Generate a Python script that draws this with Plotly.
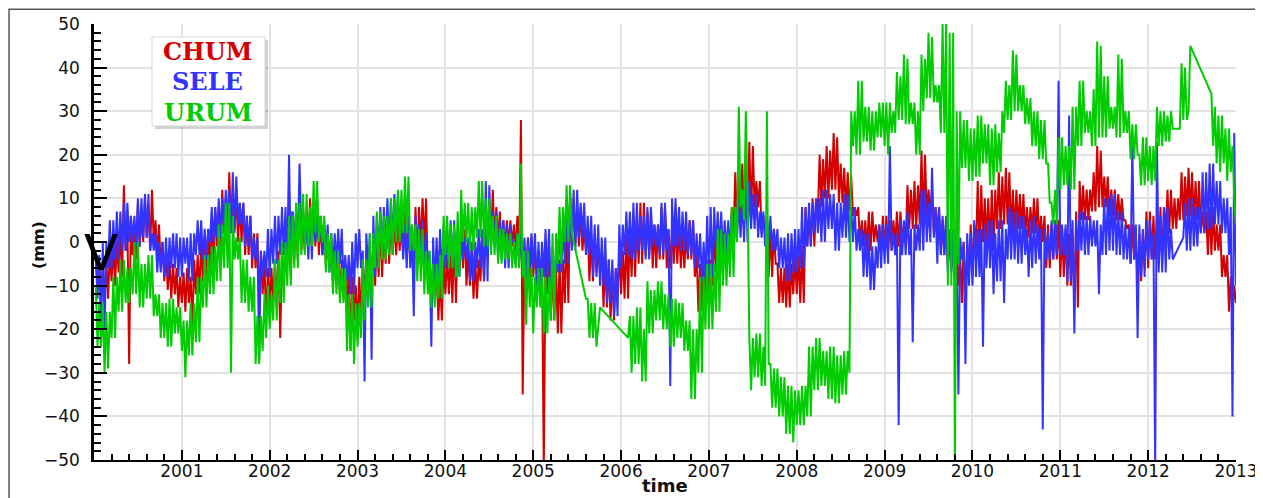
import plotly.graph_objects as go

N = None
STEP = 0.02
# sample times: 2000.02 ... 2013.00 (50 samples per year), one row per year below
TIMES = [round(2000 + STEP * i, 2) for i in range(1, 651)]

CHUM = [
    -3,-11, -5,-12, -6,-14, -4,-13, -2,-9, -1,-10, 0,-7, 3,-8, 13,-2, 5,-28, 6,-3, 4,-4, 9,-1, 6,0, 10,1, 8,-2, 12,0, 5,-3, 4,-6, 0,-9, -2,-11, -4,-13, -5,-12, -6,-15, -8,-14,
    -7,-16, -6,-14, -8,-19, -4,-12, -3,-12, 0,-9, 1,-8, 3,-6, 4,-6, 8,-1, 7,-1, 12,2, 10,2, 16,3, 11,3, 11,0, 9,0, 9,-3, 6,-3, 6,-6, 2,-6, 2,-14, -2,-12, -4,-19, -6,-15,
    -6,-14, -4,-15, -2,-22, -3,-10, 3,-5, 3,-8, 7,-4, 6,-4, 12,-2, 8,-2, 6,0, 10,-1, 9,-1, 9,-3, 5,-3, 5,-6, 2,-6, 2,-10, -1,-10, -2,-13, -4,-13, -6,-16, -6,-25, -8,-18, -10,-20,
    -8,-18, -4,-15, -2,-14, -2,-10, 2,-10, 2,-8, 4,-8, 4,-5, 6,-5, 6,-3, 5,-3, 5,-2, 7,-2, 7,-4, 4,-4, 4,-5, 8,-5, 8,-1, 10,-1, 10,-8, -3,-14, -5,-14, -5,-18, -8,-18, -4,-12,
    -3,-12, -3,-14, 2,-14, 2,-6, 3,-6, 3,-10, -2,-10, -2,-13, -4,-13, -4,-9, 2,-9, 2,-1, 8,-1, 12,0, 8,0, 7,-2, 5,-2, 5,-1, 5,-1, 4,-2, 6,-3, 28,-35, -3,-10, 1,-10, 1,-8,
    -2,-8, -2,-10, -4,-52, -3,-12, -3,-18, -6,-18, -6,-21, -4,-21, -4,-14, 4,-14, 11,-1, 10,0, 8,-1, 8,-2, 3,-2, 3,-9, 2,-9, 2,-7, -2,-7, -2,-15, -4,-15, -4,-18, -6,-18, -6,-12, -2,-12,
    -2,-13, 3,-13, 3,-8, 6,-8, 6,-5, 9,-5, 9,-3, 7,-3, 7,-6, 4,-6, 4,-4, 8,-4, 8,-6, 3,-6, 3,-5, 4,-5, 4,-6, 2,-6, 2,-4, 5,-4, 5,-8, -2,-16, -5,-16, -5,-14, -4,-12,
    -4,-10, 3,-7, 3,-6, 2,-6, 2,-5, 3,-5, 8,1, 16,4, 15,4, 18,4, 17,5, 23,5, 22,8, 14,8, 14,2, 6,2, 6,-8, 3,-8, 3,-5, -5,-14, -6,-14, -6,-15, -5,-15, -5,-12, -3,-12,
    -3,-14, -1,-14, 8,-1, 7,-1, 10,-1, 10,6, 20,8, 19,10, 22,10, 21,12, 25,12, 24,9, 18,9, 17,7, 16,7, 15,6, 8,6, 8,-1, 5,-1, 5,-2, 7,-2, 7,0, 4,0, 4,-2, 6,-2,
    6,-2, 5,-2, 5,-1, 7,-1, 7,0, 4,0, 13,3, 12,3, 14,3, 13,4, 21,4, 20,6, 12,6, 12,2, 8,2, 8,-3, 5,-3, 5,-6, 2,-6, 2,-10, -3,-10, -3,-14, 0,-14, 0,-8, 4,-8,
    4,-2, 14,-2, 13,0, 10,0, 10,-2, 12,-2, 12,3, 16,3, 15,4, 17,4, 16,2, 12,2, 12,3, 11,3, 11,1, 8,1, 8,2, 10,2, 10,0, 6,0, 6,-6, 4,-6, 4,-4, 5,-4, 5,-8,
    3,-8, 3,-10, 2,-10, 2,-15, 7,-15, 14,5, 13,5, 12,5, 12,7, 16,7, 22,8, 21,8, 15,8, 15,6, 12,6, 12,5, 11,5, 10,5, 5,3, 4,-5, 4,-4, 2,-10, 2,-9, 2,-6, 7,-6,
    7,-4, 6,-4, 6,-5, 8,-5, 8,2, 12,2, 12,3, 10,3, 10,5, 16,5, 15,6, 17,6, 16,5, 14,5, 14,2, 7,2, 7,-3, 8,-3, 8,-2, 4,-2, 4,-8, -3,-8, -3,-16, -8,-16, -10,-14,
]

SELE = [
    -3,-13, -3,-21, 0,-20, 0,-6, 5,-6, 5,-4, 7,-4, 7,-2, 9,-2, 9,0, 6,0, 6,-1, 10,-1, 10,1, 11,1, 11,-2, 2,-2, 2,-7, 0,-7, 0,-8, 1,-8, 1,-6, 2,-6, 2,-8, 1,-8,
    1,-5, 1,-9, 2,-9, 2,-3, 5,-3, 5,-4, 3,-4, 3,0, 8,0, 8,1, 10,1, 10,3, 12,3, 12,2, 16,2, 15,4, 9,4, 9,-1, 6,-1, 6,-4, 1,-4, 1,-27, -2,-8, -2,-8, 3,-8,
    3,-5, 6,-5, 6,-3, 8,-3, 8,-4, 20,-4, 7,0, 7,0, 18,2, 5,-2, 5,-4, 8,-4, 8,0, 6,0, 6,-3, 4,-3, 4,-7, 2,-7, 2,-5, 3,-5, 3,-9, -3,-9, -3,-12, 0,-12, 2,-6,
    3,-6, -2,-32, 2,-6, 2,-27, 6,-8, 6,-3, 8,-3, 8,-2, 10,-2, 10,0, 11,0, 11,3, 3,-4, 4,-6, 6,-6, 2,-17, 6,-3, 4,-5, 5,-6, 2,-6, -2,-24, 1,-10, 1,-9, 3,-9, 4,-6,
    3,-6, 5,-6, 5,-8, 2,-8, 2,-4, 1,-4, 1,-9, 0,-9, 0,-6, 3,-6, 3,-9, 14,-9, 13,0, 7,0, 7,-4, 5,-4, 5,-6, 4,-6, 4,0, 0,-5, 2,-5, 2,-8, 1,-8, 1,-6, 2,-6,
    2,-10, 0,-10, 0,-8, 3,-8, 3,-12, -1,-12, -1,-7, 4,-7, 4,-5, 10,-5, 10,-2, 12,-2, 12,1, 9,1, 9,-3, 6,-3, 6,-8, 4,-8, 4,-10, 1,-10, 1,-14, -4,-14, -4,-17, -6,-17, 4,-6,
    4,-3, 7,-3, 7,-4, 9,-4, 9,-2, 6,-2, 6,-4, 8,-4, 8,-1, 4,-1, 4,-3, 9,-3, 9,-2, 3,-33, 10,-1, 10,-1, 8,-2, 7,-2, 7,-3, 5,-3, 5,-6, 2,-6, 2,-9, 0,-9, 6,-8,
    8,-8, 8,-2, 7,-2, 7,-3, 5,-3, 5,-2, 6,-2, 6,1, 10,1, 10,0, 14,0, 14,3, 11,3, 11,1, 7,1, 7,-1, 6,-1, 6,-2, 3,-2, 3,-6, 1,-6, 1,-9, 2,-9, 2,-7, 3,-7,
    3,-6, 8,-6, 8,-1, 9,-1, 9,2, 10,2, 10,0, 12,0, 12,3, 11,3, 11,-2, 9,-2, 9,1, 11,1, 11,0, 8,0, 8,-2, 3,-2, 3,-8, 2,-8, 2,-11, -1,-11, -1,-6, 4,-6, 4,-5,
    4,-5, 22,-2, 2,-3, 2,-42, 5,-3, 5,-3, 7,-3, 3,-23, 4,-2, 4,-2, 12,-2, 12,0, 9,0, 17,1, 8,-5, 8,-3, 6,-3, 6,-7, 3,-7, 3,-6, 0,-35, 1,-4, 0,-28, 2,-10, 2,-10,
    5,-8, 3,-8, 3,-24, 4,-6, 5,-6, 5,-12, 2,-9, 5,-9, 5,-14, 3,-4, 8,-4, 7,-4, 7,-5, 6,-5, 6,-3, 3,-8, 5,-6, 6,-5, 4,-4, 3,-43, 3,-4, 2,-4, 5,-4, 5,-3, 37,-3,
    4,-3, 4,-9, 29,-9, 5,-21, 5,-2, 7,-2, 7,-3, 6,-3, 6,-1, 5,-1, 5,-12, 4,-3, 10,-3, 10,-2, 11,-2, 11,-3, 7,-3, 7,-4, 4,-4, 3,-5, 22,-4, 4,-22, 4,-8, 3,-8, 5,-4,
    5,-4, 2,-52, 23,-7, 6,-7, 8,-7, 8,-4, 3,-4, N,N, N,N, N,1, 9,-2, 10,-2, 10,-1, 8,-1, 8,2, 16,2, 16,3, 18,3, 18,4, 14,4, 14,2, 10,2, 10,-3, 8,-40, 25,-10,
]

URUM = [
    -10,-24, -14,-24, -14,-30, -16,-29, -16,-22, -8,-22, -8,-16, -4,-16, -4,-14, -6,-14, -6,-12, 0,-12, 0,-15, -5,-15, -5,-13, -3,-13, -3,-17, -12,-17, -12,-22, -14,-22, -14,-24, -13,-24, -13,-21, -15,-21, -15,-25,
    -18,-31, -18,-26, -14,-26, -14,-23, -8,-23, -8,-15, -3,-15, -3,-12, -1,-12, -1,-9, 4,-9, 4,-6, 9,-6, 9,-30, 6,-4, 1,-4, 1,-14, -4,-14, -4,-16, -8,-16, -8,-28, -17,-28, -17,-25, -12,-22, -10,-20,
    -12,-18, -4,-18, -4,-14, 0,-14, 0,-10, 6,-10, 6,-6, 9,-6, 9,-3, 11,-3, 11,-1, 8,-1, 14,2, 14,0, 6,0, 6,-7, 2,-7, 2,-12, -2,-12, -2,-14, -6,-14, -6,-25, -12,-25, -12,-28, -14,-24,
    -14,-22, -4,-18, -4,-15, 2,-15, 2,-6, 7,-6, 7,-4, 6,-4, 6,-3, 10,-3, 10,0, 12,0, 12,2, 15,2, 15,-2, 4,-2, 4,-9, 3,-9, 3,-12, -2,-12, -2,-15, -5,-15, -5,-13, -3,-13, 6,-3,
    6,-6, 4,-6, 4,-8, 7,-8, 12,0, 9,0, 9,-2, 8,-2, 8,1, 14,1, 14,-1, 10,-1, 10,-3, 6,-3, 6,-5, 3,-5, 3,-4, 2,-4, 2,-6, 0,-6, 2,-6, 18,-8, -2,-19, -2,-15, -6,-21,
    -8,-15, -6,-15, -6,-21, -8,-21, -8,-18, 2,-18, 2,-5, 8,-5, 8,0, 13,0, 13,2, N,N, N,N, N,N, N,-13, -13,-22, -14,-22, -14,-24, -20,-15, N,N, N,N, N,N, N,N, N,N, N,N,
    N,N, N,-22, -17,-30, -17,-28, -15,-28, -15,-32, -20,-32, -9,-21, -11,-21, -11,-18, -9,-18, -9,-20, -12,-20, -12,-24, -13,-24, -13,-22, -14,-22, -14,-25, -18,-25, -18,-36, -20,-36, -20,-30, -8,-30, -8,-20, -5,-20,
    -5,-20, -5,-16, 3,-16, 3,-10, 2,-10, 2,-8, 8,-8, 8,0, 31,8, 12,5, 30,10, -22,-34, -22,-31, -21,-31, -21,-33, -24,-33, 30,-28, -28,-38, -29,-38, -29,-40, -31,-40, -31,-44, -33,-44, -33,-46, -34,-42,
    -34,-42, -33,-42, -33,-40, -24,-40, -24,-34, -22,-34, -22,-33, -25,-33, -25,-36, -24,-36, -24,-37, -26,-37, -26,-35, -25,-35, -25,-30, 30,22, 30,20, 37,20, 37,23, 31,23, 31,21, 30,21, 30,24, 32,24, 32,22,
    32,20, 32,25, 30,25, 39,28, 38,28, 43,27, 42,27, 32,27, 32,20, 30,20, 43,30, 42,33, 48,33, 47,32, 36,32, 36,25, 50,25, 50,-10, 48,-10, 48,-52, 30,-5, 30,17, 28,17, 28,14, 26,14,
    26,15, 29,15, 29,18, 27,18, 27,13, 26,13, 27,16, 25,16, 30,25, 37,28, 36,28, 44,30, 43,30, 36,30, 36,27, 33,27, 33,22, 30,22, 30,19, 28,19, 28,18, 18,9, 9,4, 12,4, 24,12,
    24,13, 22,13, 22,12, 31,12, 31,22, 37,22, 37,25, 30,25, 30,22, 35,22, 46,24, 45,24, 38,24, 38,26, 31,26, 31,24, 43,24, 42,25, 30,25, 30,19, 27,19, 27,20, 20,13, 24,13, 24,14,
    22,13, 22,14, 31,22, 30,22, 30,23, 29,23, 30,26, N,N, N,26, 41,28, 40,28, 30,45, N,N, N,N, N,N, N,N, N,N, N,34, 22,31, 18,29, 16,29, 18,26, 14,26, 16,22, 10,4,
]

SERIES = [("CHUM", CHUM, "#d40000"), ("SELE", SELE, "#3333ff"), ("URUM", URUM, "#00cc00")]
XTICKS = list(range(2001, 2014))
YTICKS = list(range(-50, 51, 10))

for name, vals, _ in SERIES:
    assert len(vals) == len(TIMES), (name, len(vals))

fig = go.Figure()
for name, vals, color in SERIES:
    fig.add_trace(go.Scatter(x=TIMES, y=vals, mode="lines", name=name,
                             line=dict(color=color, width=2),
                             connectgaps=True, showlegend=False))

tickfont = dict(family="DejaVu Sans", size=17, color="#111111")
# page body has an 8px margin, so the figure is 8px smaller and margins shifted accordingly
fig.update_layout(
    width=1255, height=490,
    margin=dict(l=86, r=27, t=16, b=38),
    paper_bgcolor="white", plot_bgcolor="white",
    xaxis=dict(range=[2000, 2013], tickmode="array", tickvals=XTICKS,
               ticktext=[str(v) for v in XTICKS], automargin=False,
               ticks="inside", ticklen=10, tickwidth=2, tickcolor="black",
               showline=True, linecolor="black", linewidth=2,
               showgrid=True, gridcolor="#e2e2e2", gridwidth=1.5,
               zeroline=False, tickfont=tickfont, ticklabelstandoff=-5,
               minor=dict(tickmode="linear", tick0=2000, dtick=0.2, ticks="inside",
                          ticklen=6, tickwidth=1.5, tickcolor="black", showgrid=False)),
    yaxis=dict(range=[-50, 50], tickmode="array", tickvals=YTICKS, automargin=False,
               ticks="inside", ticklen=13, tickwidth=2, tickcolor="black",
               showline=True, linecolor="black", linewidth=2.5,
               showgrid=True, gridcolor="#e2e2e2", gridwidth=1.5,
               zeroline=False, tickfont=tickfont, ticklabelstandoff=8,
               minor=dict(tickmode="linear", tick0=-50, dtick=2, ticks="inside",
                          ticklen=7, tickwidth=1.5, tickcolor="black", showgrid=False)),
)

# x title
fig.add_annotation(text="<b>time</b>", xref="paper", yref="paper", x=0.5, y=-0.058,
                   xanchor="center", yanchor="middle", showarrow=False,
                   font=dict(family="DejaVu Sans", size=18, color="#111111"))
# y title
fig.add_annotation(text="<b>(mm)</b>", xref="paper", yref="paper", x=-0.049, y=0.493,
                   xanchor="center", yanchor="middle", textangle=-90, showarrow=False,
                   font=dict(family="DejaVu Sans", size=16, color="#111111"))

# legend box with shadow
fig.add_shape(type="rect", xref="paper", yref="paper", x0=0.0535, x1=0.1523, y0=0.7592, y1=0.9633,
              fillcolor="rgba(0,0,0,0.18)", line=dict(width=0), layer="above")
fig.add_shape(type="rect", xref="paper", yref="paper", x0=0.0508, x1=0.1497, y0=0.7661, y1=0.9702,
              fillcolor="white", line=dict(color="#d8d8d8", width=1), layer="above")
for (name, _, color), yp in zip(SERIES, [0.938, 0.869, 0.798]):
    fig.add_annotation(text="<b>%s</b>" % name, xref="paper", yref="paper", x=0.0998, y=yp,
                       xanchor="center", yanchor="middle", showarrow=False,
                       font=dict(family="DejaVu Serif", size=24, color=color))

# "V" glyph near the start
fig.add_annotation(text="V", xref="paper", yref="paper", x=0.0061, y=0.475,
                   xanchor="center", yanchor="middle", showarrow=False,
                   font=dict(family="DejaVu Sans", size=50, color="black"))

# outer frame
fig.add_shape(type="rect", xref="paper", yref="paper", x0=-0.0744, x1=1.0201, y0=-0.2, y1=1.034,
              line=dict(color="#555555", width=1.5), layer="above")

fig.write_html("out.html")
